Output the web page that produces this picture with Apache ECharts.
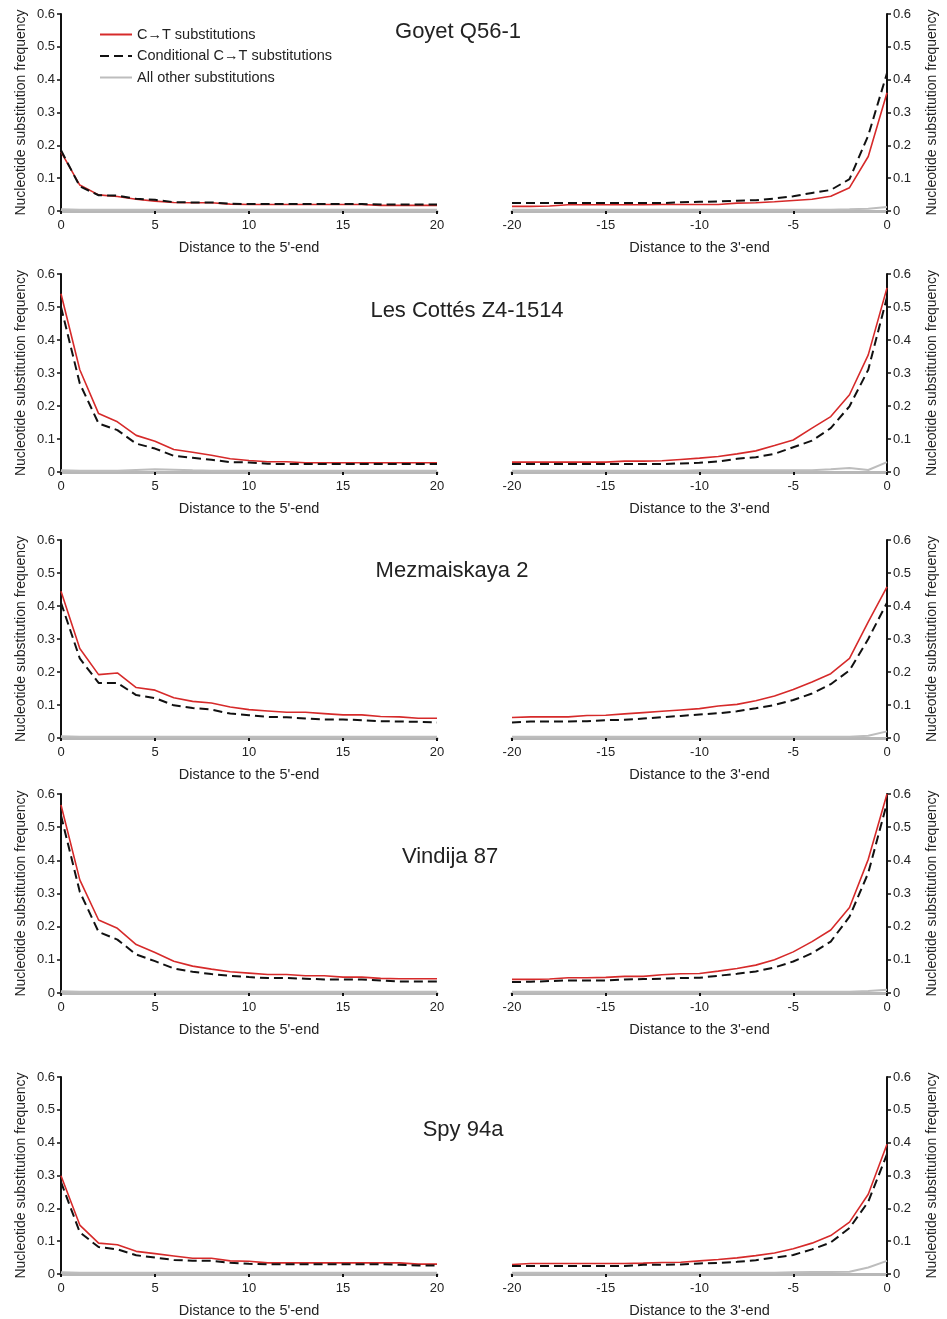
<!DOCTYPE html>
<html>
<head>
<meta charset="utf-8">
<script src="https://cdn.jsdelivr.net/npm/echarts@6/dist/echarts.min.js"></script>
<style>
  html, body { margin: 0; padding: 0; background: #fff; }
  #main { width: 947px; height: 1319px; }
</style>
</head>
<body>
<div id="main"></div>
<script>
// positions from the read ends
const pos5 = [0, 1, 2, 3, 4, 5, 6, 7, 8, 9, 10, 11, 12, 13, 14, 15, 16, 17, 18, 19, 20];
const pos3 = [-20, -19, -18, -17, -16, -15, -14, -13, -12, -11, -10, -9, -8, -7, -6, -5, -4, -3, -2, -1, 0];

const sampleNames = ['Goyet Q56-1', 'Les Cottés Z4-1514', 'Mezmaiskaya 2', 'Vindija 87', 'Spy 94a'];

// Goyet Q56-1
const goyetCT5 = [0.18, 0.079, 0.049, 0.044, 0.036, 0.03, 0.026, 0.025, 0.025, 0.021, 0.02, 0.02, 0.02, 0.02, 0.02, 0.02, 0.02, 0.017, 0.017, 0.017, 0.017];
const goyetCond5 = [0.185, 0.075, 0.048, 0.047, 0.037, 0.034, 0.027, 0.026, 0.026, 0.022, 0.021, 0.021, 0.021, 0.021, 0.021, 0.021, 0.021, 0.02, 0.02, 0.02, 0.02];
const goyetOther5 = [0.005, 0.004, 0.004, 0.004, 0.004, 0.004, 0.004, 0.004, 0.004, 0.004, 0.004, 0.004, 0.004, 0.004, 0.004, 0.004, 0.004, 0.004, 0.004, 0.004, 0.004];
const goyetCT3 = [0.014, 0.014, 0.015, 0.019, 0.019, 0.019, 0.019, 0.019, 0.02, 0.02, 0.02, 0.02, 0.024, 0.025, 0.028, 0.032, 0.036, 0.045, 0.071, 0.166, 0.36];
const goyetCond3 = [0.024, 0.024, 0.024, 0.024, 0.024, 0.024, 0.024, 0.024, 0.024, 0.027, 0.028, 0.029, 0.031, 0.033, 0.038, 0.045, 0.055, 0.064, 0.097, 0.23, 0.42];
const goyetOther3 = [0.004, 0.004, 0.004, 0.004, 0.004, 0.004, 0.004, 0.004, 0.004, 0.004, 0.004, 0.004, 0.004, 0.004, 0.004, 0.004, 0.004, 0.004, 0.005, 0.007, 0.012];

// Les Cottés Z4-1514
const cottesCT5 = [0.54, 0.31, 0.177, 0.152, 0.111, 0.093, 0.068, 0.06, 0.051, 0.04, 0.035, 0.031, 0.031, 0.028, 0.028, 0.028, 0.028, 0.028, 0.028, 0.028, 0.028];
const cottesCond5 = [0.5, 0.268, 0.147, 0.127, 0.086, 0.071, 0.049, 0.043, 0.037, 0.03, 0.029, 0.025, 0.024, 0.024, 0.024, 0.024, 0.024, 0.024, 0.024, 0.024, 0.024];
const cottesOther5 = [0.005, 0.004, 0.004, 0.004, 0.006, 0.008, 0.007, 0.005, 0.004, 0.004, 0.004, 0.004, 0.004, 0.004, 0.004, 0.004, 0.004, 0.004, 0.004, 0.004, 0.004];
const cottesCT3 = [0.03, 0.03, 0.03, 0.03, 0.03, 0.03, 0.033, 0.033, 0.034, 0.038, 0.042, 0.047, 0.055, 0.064, 0.08, 0.097, 0.133, 0.168, 0.234, 0.355, 0.558];
const cottesCond3 = [0.024, 0.024, 0.024, 0.024, 0.024, 0.024, 0.024, 0.024, 0.024, 0.026, 0.028, 0.032, 0.04, 0.045, 0.055, 0.075, 0.095, 0.133, 0.199, 0.31, 0.53];
const cottesOther3 = [0.004, 0.004, 0.004, 0.004, 0.004, 0.004, 0.004, 0.004, 0.004, 0.004, 0.005, 0.005, 0.005, 0.005, 0.005, 0.005, 0.005, 0.008, 0.012, 0.006, 0.03];

// Mezmaiskaya 2
const mezCT5 = [0.445, 0.271, 0.192, 0.197, 0.153, 0.145, 0.122, 0.111, 0.106, 0.094, 0.086, 0.082, 0.078, 0.078, 0.074, 0.07, 0.07, 0.065, 0.064, 0.06, 0.06];
const mezCond5 = [0.41, 0.241, 0.167, 0.167, 0.13, 0.121, 0.099, 0.091, 0.086, 0.074, 0.069, 0.064, 0.063, 0.059, 0.056, 0.056, 0.054, 0.051, 0.05, 0.049, 0.047];
const mezOther5 = [0.005, 0.004, 0.004, 0.004, 0.004, 0.004, 0.004, 0.004, 0.004, 0.004, 0.004, 0.004, 0.004, 0.004, 0.004, 0.004, 0.004, 0.004, 0.004, 0.004, 0.004];
const mezCT3 = [0.062, 0.064, 0.064, 0.064, 0.068, 0.069, 0.073, 0.077, 0.081, 0.085, 0.089, 0.097, 0.102, 0.113, 0.127, 0.147, 0.17, 0.195, 0.241, 0.352, 0.458];
const mezCond3 = [0.047, 0.05, 0.05, 0.05, 0.051, 0.054, 0.055, 0.059, 0.063, 0.067, 0.071, 0.075, 0.081, 0.09, 0.1, 0.115, 0.135, 0.163, 0.205, 0.3, 0.41];
const mezOther3 = [0.004, 0.004, 0.004, 0.004, 0.004, 0.004, 0.004, 0.004, 0.004, 0.004, 0.004, 0.004, 0.004, 0.004, 0.004, 0.004, 0.004, 0.004, 0.004, 0.007, 0.02];

// Vindija 87
const vindCT5 = [0.567, 0.341, 0.22, 0.195, 0.146, 0.122, 0.096, 0.081, 0.072, 0.064, 0.06, 0.056, 0.056, 0.052, 0.052, 0.048, 0.048, 0.044, 0.043, 0.043, 0.043];
const vindCond5 = [0.535, 0.305, 0.184, 0.161, 0.116, 0.096, 0.074, 0.064, 0.057, 0.052, 0.048, 0.045, 0.045, 0.043, 0.041, 0.041, 0.041, 0.038, 0.035, 0.035, 0.035];
const vindOther5 = [0.005, 0.004, 0.004, 0.004, 0.004, 0.004, 0.004, 0.004, 0.004, 0.004, 0.004, 0.004, 0.004, 0.004, 0.004, 0.004, 0.004, 0.004, 0.004, 0.004, 0.004];
const vindCT3 = [0.041, 0.041, 0.042, 0.046, 0.046, 0.047, 0.05, 0.05, 0.055, 0.058, 0.059, 0.066, 0.074, 0.084, 0.1, 0.124, 0.155, 0.19, 0.258, 0.403, 0.6];
const vindCond3 = [0.033, 0.034, 0.036, 0.038, 0.038, 0.038, 0.041, 0.042, 0.043, 0.045, 0.046, 0.052, 0.058, 0.065, 0.077, 0.095, 0.12, 0.155, 0.23, 0.362, 0.573];
const vindOther3 = [0.004, 0.004, 0.004, 0.004, 0.004, 0.004, 0.004, 0.004, 0.004, 0.004, 0.004, 0.004, 0.004, 0.004, 0.004, 0.004, 0.004, 0.004, 0.004, 0.006, 0.01];

// Spy 94a
const spyCT5 = [0.299, 0.149, 0.094, 0.089, 0.069, 0.062, 0.055, 0.048, 0.048, 0.04, 0.039, 0.034, 0.034, 0.034, 0.034, 0.034, 0.034, 0.034, 0.034, 0.03, 0.03];
const spyCond5 = [0.28, 0.127, 0.082, 0.075, 0.057, 0.05, 0.043, 0.04, 0.04, 0.034, 0.031, 0.03, 0.03, 0.03, 0.03, 0.03, 0.03, 0.03, 0.028, 0.026, 0.026];
const spyOther5 = [0.005, 0.004, 0.004, 0.004, 0.004, 0.004, 0.004, 0.004, 0.004, 0.004, 0.004, 0.004, 0.004, 0.004, 0.004, 0.004, 0.004, 0.004, 0.004, 0.004, 0.004];
const spyCT3 = [0.029, 0.032, 0.032, 0.032, 0.032, 0.032, 0.032, 0.033, 0.035, 0.036, 0.04, 0.044, 0.049, 0.056, 0.064, 0.077, 0.094, 0.117, 0.158, 0.243, 0.395];
const spyCond3 = [0.024, 0.024, 0.024, 0.024, 0.024, 0.024, 0.024, 0.028, 0.028, 0.029, 0.032, 0.034, 0.037, 0.042, 0.05, 0.058, 0.075, 0.096, 0.14, 0.22, 0.365];
const spyOther3 = [0.004, 0.004, 0.004, 0.004, 0.004, 0.004, 0.004, 0.004, 0.004, 0.004, 0.004, 0.004, 0.004, 0.004, 0.004, 0.005, 0.006, 0.006, 0.007, 0.02, 0.04];

const ct5 = [goyetCT5, cottesCT5, mezCT5, vindCT5, spyCT5];
const cond5 = [goyetCond5, cottesCond5, mezCond5, vindCond5, spyCond5];
const other5 = [goyetOther5, cottesOther5, mezOther5, vindOther5, spyOther5];
const ct3 = [goyetCT3, cottesCT3, mezCT3, vindCT3, spyCT3];
const cond3 = [goyetCond3, cottesCond3, mezCond3, vindCond3, spyCond3];
const other3 = [goyetOther3, cottesOther3, mezOther3, vindOther3, spyOther3];

const seriesNames = ['C\u2192T substitutions', 'Conditional C\u2192T substitutions', 'All other substitutions'];

// layout
const rowTop = [14, 274, 540, 794, 1077];
const rowH = [197, 198, 198, 199, 198];
const titlePos = [[458, 32], [467, 311], [452, 571], [450, 857], [463, 1130]];
const FONT = '"Liberation Sans", Arial, sans-serif';
const txt = '#222';

const grid = [], xAxis = [], yAxis = [], series = [], graphic = [];

function pair(xs, ys) { return xs.map((x, i) => [x, ys[i]]); }

function yAx(gi, side) {
  return {
    gridIndex: gi, type: 'value', position: side, min: 0, max: 0.6, interval: 0.1,
    name: 'Nucleotide substitution frequency', nameLocation: 'middle',
    nameGap: side === 'left' ? 33 : 38,
    nameTextStyle: { fontFamily: FONT, fontSize: 14, color: txt },
    axisLine: { show: true, lineStyle: { color: '#111', width: 2 } },
    axisTick: { show: true, length: 4, lineStyle: { color: '#111', width: 1.5 } },
    axisLabel: { fontFamily: FONT, fontSize: 13, color: txt, margin: 6,
      formatter: v => v === 0 ? '0' : v.toFixed(1) },
    splitLine: { show: false }
  };
}

function xAx(gi, min, max, name) {
  return {
    gridIndex: gi, type: 'value', min: min, max: max, interval: 5,
    name: name, nameLocation: 'middle', nameGap: 29,
    nameTextStyle: { fontFamily: FONT, fontSize: 14.5, color: txt },
    axisLine: { show: true, onZero: false, lineStyle: { color: '#b8b8b8', width: 3 } },
    axisTick: { show: true, length: 3, lineStyle: { color: '#111', width: 2 } },
    axisLabel: { fontFamily: FONT, fontSize: 13, color: txt, margin: 8 },
    splitLine: { show: false }
  };
}

function addSeries(gi, xs, ctArr, condArr, otherArr) {
  series.push({
    name: seriesNames[2], type: 'line', xAxisIndex: gi, yAxisIndex: gi,
    data: pair(xs, otherArr), showSymbol: false, symbol: 'none',
    lineStyle: { color: '#bdbdbd', width: 2 }, itemStyle: { color: '#bdbdbd' }, z: 2
  });
  series.push({
    name: seriesNames[0], type: 'line', xAxisIndex: gi, yAxisIndex: gi,
    data: pair(xs, ctArr), showSymbol: false, symbol: 'none',
    lineStyle: { color: '#d62a2a', width: 1.6 }, itemStyle: { color: '#d62a2a' }, z: 3
  });
  series.push({
    name: seriesNames[1], type: 'line', xAxisIndex: gi, yAxisIndex: gi,
    data: pair(xs, condArr), showSymbol: false, symbol: 'none',
    lineStyle: { color: '#111', width: 2, type: [9, 5] }, itemStyle: { color: '#111' }, z: 4
  });
}

for (let r = 0; r < sampleNames.length; r++) {
  const gl = r * 2, gr = r * 2 + 1;
  grid.push({ left: 61, top: rowTop[r], width: 376, height: rowH[r] });
  grid.push({ left: 512, top: rowTop[r], width: 375, height: rowH[r] });
  xAxis.push(xAx(gl, 0, 20, "Distance to the 5'-end"));
  xAxis.push(xAx(gr, -20, 0, "Distance to the 3'-end"));
  yAxis.push(yAx(gl, 'left'));
  yAxis.push(yAx(gr, 'right'));
  addSeries(gl, pos5, ct5[r], cond5[r], other5[r]);
  addSeries(gr, pos3, ct3[r], cond3[r], other3[r]);
  graphic.push({
    type: 'text', x: titlePos[r][0], y: titlePos[r][1],
    style: { text: sampleNames[r], fill: txt, font: '22px ' + FONT, textAlign: 'center', textVerticalAlign: 'middle' }
  });
}

const option = {
  animation: false,
  backgroundColor: '#fff',
  legend: {
    data: seriesNames,
    orient: 'vertical',
    left: 94, top: 22,
    itemWidth: 32, itemHeight: 14, itemGap: 6.5,
    itemStyle: { opacity: 0 },
    textStyle: { fontFamily: FONT, fontSize: 14.5, color: txt, padding: [0, 0, 0, 0] },
    selectedMode: false
  },
  grid: grid,
  xAxis: xAxis,
  yAxis: yAxis,
  series: series,
  graphic: graphic
};

let myChart = echarts.init(document.getElementById('main'));
myChart.setOption(option);
</script>
</body>
</html>
